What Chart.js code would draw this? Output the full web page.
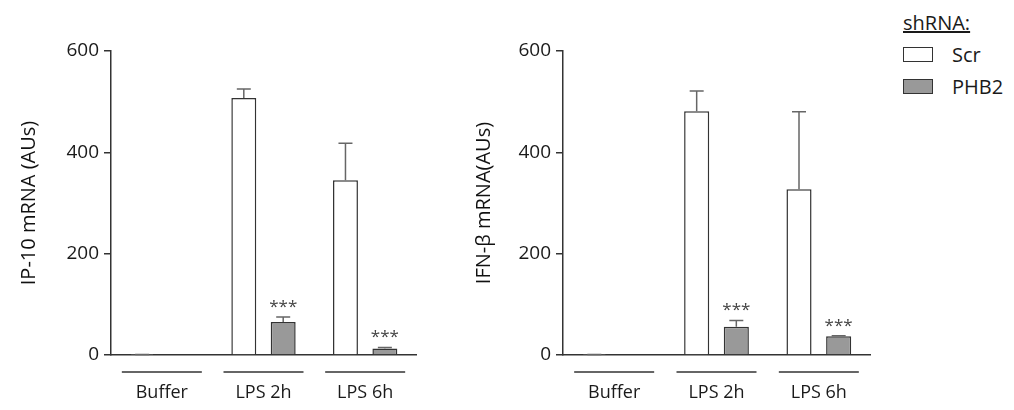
<!DOCTYPE html>
<html lang="en">
<head>
    <meta charset="UTF-8" />
    <title>IP-10 and IFN-b mRNA</title>
    <script src="https://cdn.jsdelivr.net/npm/chart.js"></script>
    <style>
        body { margin: 0; background: #fff; font-family: "Open Sans", sans-serif; color: #1a1a1a; }
        #wrap { position: relative; width: 1014px; height: 410px; }
        canvas { position: absolute; top: 0; }
        #legend { position: absolute; left: 903px; top: 8px; font-size: 20px; }
        #legend .title { text-decoration: underline; line-height: 30px; }
        #legend .row { display: flex; align-items: center; height: 32px; }
        #legend .box { width: 28px; height: 13px; border: 1.5px solid #333; margin-right: 19px; }
    </style>
</head>
<body>
<div id="wrap">
    <canvas id="ip10Chart" width="440" height="410" style="left:0"></canvas>
    <canvas id="ifnChart" width="450" height="410" style="left:440px"></canvas>
    <div id="legend">
        <div class="title">shRNA:</div>
        <div class="row"><div class="box" style="background:#fff"></div>Scr</div>
        <div class="row"><div class="box" style="background:#999"></div>PHB2</div>
    </div>
</div>

<script>
    // values (AUs)
    const categories = ["Buffer", "LPS 2h", "LPS 6h"];

    const ip10Scr = [0.5, 507, 345];
    const ip10ScrErr = [0.5, 18, 73];
    const ip10Phb2 = [0, 65, 13];
    const ip10Phb2Err = [0, 10, 2];

    const ifnScr = [0.5, 481, 327];
    const ifnScrErr = [0.5, 40, 153];
    const ifnPhb2 = [0, 56, 37];
    const ifnPhb2Err = [0, 12, 1];

    const stars = ["", "***", "***"];
    const yTicks = [0, 200, 400, 600];

    const FONT = "'Open Sans', sans-serif";
    const INK = "#333";
    const TEXT = "#1a1a1a";

    // error bars (upper only), stars over PHB2 and a line under each group
    const extras = {
        id: "extras",
        afterDatasetsDraw(chart) {
            const ctx = chart.ctx;
            const y = chart.scales.y;
            const x = chart.scales.x;
            ctx.save();
            chart.data.datasets.forEach((ds, di) => {
                const meta = chart.getDatasetMeta(di);
                meta.data.forEach((bar, i) => {
                    const err = ds.err[i];
                    if (err > 0) {
                        const top = y.getPixelForValue(ds.data[i] + err);
                        ctx.strokeStyle = "#666";
                        ctx.lineWidth = 1.5;
                        ctx.beginPath();
                        ctx.moveTo(bar.x, bar.y);
                        ctx.lineTo(bar.x, top);
                        ctx.moveTo(bar.x - 7, top);
                        ctx.lineTo(bar.x + 7, top);
                        ctx.stroke();
                    }
                    if (ds.stars && ds.stars[i]) {
                        const top = y.getPixelForValue(ds.data[i] + err);
                        ctx.fillStyle = "#444";
                        ctx.font = "17px " + FONT;
                        ctx.textAlign = "center";
                        ctx.textBaseline = "middle";
                        ctx.fillText(ds.stars[i], bar.x, top - 10);
                    }
                });
            });
            // group underlines
            ctx.strokeStyle = INK;
            ctx.lineWidth = 1.5;
            const ly = x.bottom - 38;
            categories.forEach((c, i) => {
                const cx = x.getPixelForValue(i);
                ctx.beginPath();
                ctx.moveTo(cx - 40, ly);
                ctx.lineTo(cx + 40, ly);
                ctx.stroke();
            });
            ctx.restore();
        }
    };

    function makeChart(id, title, scr, scrErr, phb2, phb2Err, yWidth, titlePad, padRight) {
        return new Chart(document.getElementById(id), {
            type: "bar",
            data: {
                labels: categories,
                datasets: [
                    { label: "Scr", data: scr, err: scrErr,
                      backgroundColor: "#fff", borderColor: INK, borderWidth: 1.5 },
                    { label: "PHB2", data: phb2, err: phb2Err, stars: stars,
                      backgroundColor: "#999", borderColor: INK, borderWidth: 1.5 }
                ]
            },
            options: {
                responsive: false,
                animation: false,
                devicePixelRatio: 1,
                categoryPercentage: 0.775,
                barPercentage: 0.633,
                layout: { padding: { top: 51, right: padRight, left: 0, bottom: 0 } },
                plugins: { legend: { display: false }, tooltip: { enabled: false } },
                scales: {
                    x: {
                        grid: { display: true, drawOnChartArea: false, drawTicks: false },
                        border: { color: INK, width: 1.5 },
                        ticks: { color: TEXT, font: { family: FONT, size: 18 }, padding: 27 },
                        afterFit(s) { s.height = 55; }
                    },
                    y: {
                        min: 0, max: 600,
                        afterBuildTicks(s) { s.ticks = yTicks.map(v => ({ value: v })); },
                        grid: { drawOnChartArea: false, drawTicks: true, tickLength: 7, color: INK, lineWidth: 1.5 },
                        border: { color: INK, width: 1.5 },
                        ticks: { color: TEXT, font: { family: FONT, size: 19 }, padding: 5 },
                        title: { display: true, text: title, color: "#111",
                                 font: { family: FONT, size: 20 }, padding: { top: titlePad, bottom: 0 } },
                        afterFit(s) { s.width = yWidth; }
                    }
                }
            },
            plugins: [extras]
        });
    }

    makeChart("ip10Chart", "IP-10 mRNA (AUs)", ip10Scr, ip10ScrErr, ip10Phb2, ip10Phb2Err, 111, 17, 24);
    makeChart("ifnChart", "IFN-β mRNA(AUs)", ifnScr, ifnScrErr, ifnPhb2, ifnPhb2Err, 123, 32, 20);
</script>
</body>
</html>
